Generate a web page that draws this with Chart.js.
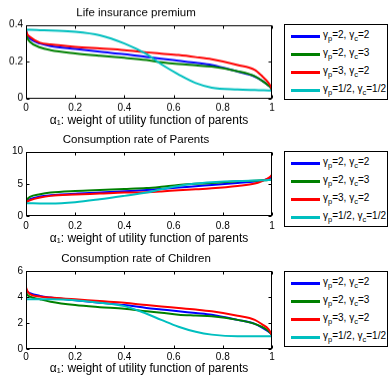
<!DOCTYPE html>
<html><head><meta charset="utf-8">
<script src="https://cdn.jsdelivr.net/npm/chart.js@4/dist/chart.umd.min.js"></script>
<style>
html,body{margin:0;padding:0;background:#fff;width:389px;height:378px;overflow:hidden;font-family:"Liberation Sans",Arial,sans-serif;}
.panel{position:absolute;left:0;width:284px;}
.legend{position:absolute;left:284px;width:104px;height:76px;border:1px solid #000;background:#fff;box-sizing:border-box;}
.ln{position:absolute;left:6px;width:29px;height:3px;}
.tx{position:absolute;left:38px;font-size:10px;line-height:12px;white-space:nowrap;color:#000;}
.tx sub{font-size:7.5px;vertical-align:-3px;line-height:0;}
</style></head>
<body>
<script>
// ---- data ----
const alpha = [0, 0.005, 0.016, 0.057, 0.1, 0.2, 0.3, 0.4, 0.49, 0.55, 0.62, 0.69, 0.755, 0.86, 0.93, 0.96, 0.985, 0.995, 1];

const premium_p2c2 = [0.37, 0.345, 0.325, 0.298, 0.284, 0.268, 0.253, 0.24, 0.225, 0.215, 0.204, 0.193, 0.181, 0.145, 0.118, 0.095, 0.07, 0.058, 0.045];
const premium_p2c3 = [0.36, 0.33, 0.307, 0.277, 0.262, 0.244, 0.231, 0.22, 0.208, 0.196, 0.186, 0.179, 0.172, 0.147, 0.12, 0.095, 0.07, 0.058, 0.045];
const premium_p3c2 = [0.37, 0.35, 0.334, 0.302, 0.293, 0.28, 0.271, 0.262, 0.25, 0.243, 0.235, 0.224, 0.212, 0.181, 0.154, 0.12, 0.085, 0.065, 0.045];
const premium_phch = [0.372, 0.372, 0.372, 0.37, 0.368, 0.362, 0.343, 0.298, 0.24, 0.185, 0.13, 0.083, 0.058, 0.048, 0.045, 0.044, 0.043, 0.042, 0.042];

const parents_p2c2 = [2.1, 2.35, 2.6, 3.02, 3.22, 3.48, 3.64, 3.84, 4.03, 4.2, 4.42, 4.62, 4.83, 5.14, 5.35, 5.5, 5.8, 6.0, 6.2];
const parents_p2c3 = [2.2, 2.6, 2.98, 3.38, 3.64, 3.9, 4.06, 4.2, 4.35, 4.55, 4.83, 5.0, 5.14, 5.4, 5.5, 5.55, 5.6, 5.65, 5.7];
const parents_p3c2 = [2.0, 2.25, 2.45, 2.87, 3.13, 3.33, 3.48, 3.64, 3.7, 3.82, 4.0, 4.15, 4.31, 4.68, 5.04, 5.45, 5.9, 6.2, 6.4];
const parents_phch = [2.0, 1.99, 1.98, 1.95, 1.95, 2.15, 2.6, 3.13, 3.64, 4.16, 4.68, 5.04, 5.24, 5.45, 5.52, 5.55, 5.6, 5.63, 5.66];

const children_p2c2 = [4.6, 4.45, 4.32, 4.1, 3.97, 3.76, 3.57, 3.39, 3.17, 3.05, 2.91, 2.78, 2.65, 2.25, 1.94, 1.65, 1.35, 1.2, 1.06];
const children_p2c3 = [4.4, 4.2, 4.05, 3.84, 3.65, 3.39, 3.23, 3.1, 2.91, 2.8, 2.65, 2.58, 2.52, 2.25, 1.94, 1.7, 1.4, 1.2, 1.06];
const children_p3c2 = [4.76, 4.5, 4.24, 4.05, 3.97, 3.84, 3.7, 3.57, 3.39, 3.28, 3.17, 3.05, 2.91, 2.57, 2.25, 1.9, 1.55, 1.25, 1.06];
const children_phch = [3.84, 3.84, 3.84, 3.84, 3.84, 3.76, 3.57, 3.31, 2.72, 2.25, 1.72, 1.33, 1.11, 0.98, 0.98, 0.98, 0.98, 0.98, 0.98];

const seriesLabels = ['γ<sub>p</sub>=2, γ<sub>c</sub>=2', 'γ<sub>p</sub>=2, γ<sub>c</sub>=3', 'γ<sub>p</sub>=3, γ<sub>c</sub>=2', 'γ<sub>p</sub>=1/2, γ<sub>c</sub>=1/2'];
const panelTitles = ['Life insurance premium', 'Consumption rate of Parents', 'Consumption rate of Children'];
const xTitle = 'α\u2081: weight of utility function of parents';
const xTickValues = [0, 0.2, 0.4, 0.6, 0.8, 1];
const xTickLabels = ['0', '0.2', '0.4', '0.6', '0.8', '1'];
const premiumTicks = [0, 0.2, 0.4];
const premiumTickLabels = ['0', '0.2', '0.4'];
const parentsTicks = [0, 5, 10];
const parentsTickLabels = ['0', '5', '10'];
const childrenTicks = [0, 2, 4, 6];
const childrenTickLabels = ['0', '2', '4', '6'];

// ---- styles / layout ----
const colors = ['#0000ff', '#008000', '#ff0000', '#00bfbf'];
const panels = [
  {series: [premium_p2c2, premium_p2c3, premium_p3c2, premium_phch], yTicks: premiumTicks, yLabels: premiumTickLabels,
   top: 0, height: 128.5, titlePadTop: 6.1, titlePadBottom: 4.6, xH: 31, xPad: 4, xTitlePad: 1.3, legendTop: 24},
  {series: [parents_p2c2, parents_p2c3, parents_p3c2, parents_phch], yTicks: parentsTicks, yLabels: parentsTickLabels,
   top: 126, height: 121, titlePadTop: 7.1, titlePadBottom: 4.8, xH: 31, xPad: 4, xTitlePad: 0.8, legendTop: 151},
  {series: [children_p2c2, children_p2c3, children_p3c2, children_phch], yTicks: childrenTicks, yLabels: childrenTickLabels,
   top: 244, height: 134, titlePadTop: 8.1, titlePadBottom: 5.4, xH: 29, xPad: 2.5, xTitlePad: 2.3, legendTop: 271}
];
const rowOffsets = [11, 29, 47, 65];

const boxPlugin = {
  id: 'matlabBox',
  afterDatasetsDraw(chart) {
    const {ctx, chartArea: a, scales} = chart;
    ctx.save();
    ctx.strokeStyle = '#000';
    ctx.lineWidth = 1;
    const L = Math.round(a.left) + 0.5, R = Math.round(a.right) - 0.5, T = Math.round(a.top) + 0.5, B = Math.round(a.bottom) - 0.5;
    ctx.beginPath();
    const tl = 3;
    scales.x.ticks.forEach(t => {
      const px = Math.round(scales.x.getPixelForValue(t.value)) + 0.5;
      ctx.moveTo(px, B); ctx.lineTo(px, B - tl);
      ctx.moveTo(px, T); ctx.lineTo(px, T + tl);
    });
    scales.y.ticks.forEach(t => {
      const py = Math.round(scales.y.getPixelForValue(t.value)) + 0.5;
      ctx.moveTo(L, py); ctx.lineTo(L + tl, py);
      ctx.moveTo(R, py); ctx.lineTo(R - tl, py);
    });
    ctx.stroke();
    ctx.strokeRect(L, T, R - L, B - T);
    ctx.restore();
  }
};

panels.forEach((p, pi) => {
  const wrap = document.createElement('div');
  wrap.className = 'panel';
  wrap.style.top = p.top + 'px';
  wrap.style.height = p.height + 'px';
  const cv = document.createElement('canvas');
  wrap.appendChild(cv);
  document.body.appendChild(wrap);

  new Chart(cv, {
    type: 'line',
    data: {
      datasets: p.series.map((s, i) => ({
        data: alpha.map((a, k) => ({x: a, y: s[k]})),
        borderColor: colors[i],
        borderWidth: 2,
        pointRadius: 0,
        fill: false,
        cubicInterpolationMode: 'monotone',
        order: 3 - i
      }))
    },
    options: {
      responsive: true,
      maintainAspectRatio: false,
      animation: false,
      events: [],
      layout: {padding: {left: 0, right: 12, top: 0, bottom: 0}},
      plugins: {
        legend: {display: false},
        tooltip: {enabled: false},
        title: {
          display: true,
          text: panelTitles[pi],
          color: '#000',
          font: {family: '"Liberation Sans", Arial, sans-serif', size: 11.5, weight: 'normal', lineHeight: 1.2},
          padding: {top: p.titlePadTop, bottom: p.titlePadBottom}
        }
      },
      scales: {
        x: {
          type: 'linear', min: 0, max: 1,
          grid: {display: false, drawTicks: false},
          border: {display: false},
          afterBuildTicks: sc => { sc.ticks = xTickValues.map(v => ({value: v})); },
          afterFit: sc => { sc.height = p.xH; },
          ticks: {
            padding: p.xPad, color: '#000', maxRotation: 0, autoSkip: false,
            font: {family: '"Liberation Sans", Arial, sans-serif', size: 10},
            callback: (v, i) => xTickLabels[i]
          },
          title: {
            display: true, text: xTitle, color: '#000',
            font: {family: '"Liberation Sans", Arial, sans-serif', size: 12, lineHeight: 1.2},
            padding: {top: 0, bottom: p.xTitlePad}
          }
        },
        y: {
          type: 'linear', min: p.yTicks[0], max: p.yTicks[p.yTicks.length - 1],
          grid: {display: false, drawTicks: false},
          border: {display: false},
          afterBuildTicks: sc => { sc.ticks = p.yTicks.map(v => ({value: v})); },
          afterFit: sc => { sc.width = 26; },
          ticks: {
            padding: 3, color: '#000', autoSkip: false,
            font: {family: '"Liberation Sans", Arial, sans-serif', size: 10},
            callback: (v, i) => p.yLabels[i]
          }
        }
      }
    },
    plugins: [boxPlugin]
  });

  const lg = document.createElement('div');
  lg.className = 'legend';
  lg.style.top = p.legendTop + 'px';
  seriesLabels.forEach((lab, i) => {
    const ln = document.createElement('div');
    ln.className = 'ln';
    ln.style.top = (rowOffsets[i] - 1.5) + 'px';
    ln.style.background = colors[i];
    const tx = document.createElement('div');
    tx.className = 'tx';
    tx.style.top = (rowOffsets[i] - 7) + 'px';
    tx.innerHTML = lab;
    lg.appendChild(ln);
    lg.appendChild(tx);
  });
  document.body.appendChild(lg);
});
</script>
</body></html>
